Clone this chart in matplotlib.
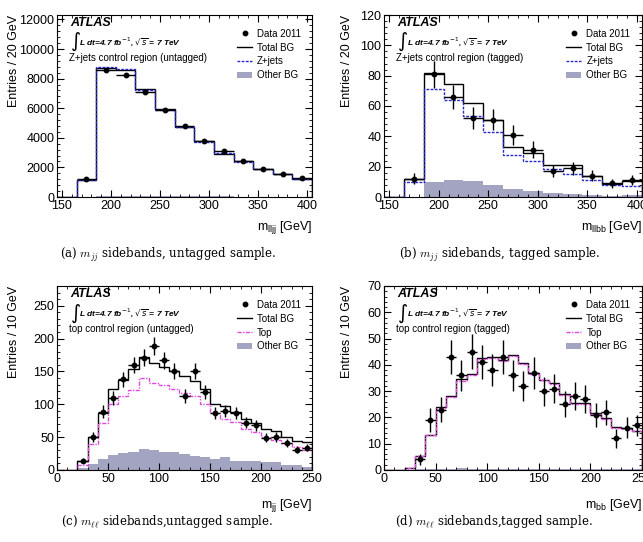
import matplotlib
matplotlib.use("Agg")
import matplotlib.pyplot as plt
import numpy as np
from matplotlib.ticker import AutoMinorLocator, MultipleLocator
from matplotlib.lines import Line2D
from matplotlib.patches import Patch

plt.rcParams['font.family'] = ['Liberation Sans', 'DejaVu Sans']
plt.rcParams['mathtext.fontset'] = 'dejavusans'

# bins (GeV)
edges_z = np.arange(145, 406, 20)   # Z+jets control region, 20 GeV bins
edges_t = np.arange(0, 251, 10)     # top control region, 10 GeV bins

# (a) m_lljj, untagged
total_a = [0, 1180, 8700, 8560, 7270, 5950, 4760, 3760, 2920, 2400, 1890, 1570, 1250]
zjets_a = [0, 1170, 8780, 8640, 7200, 5900, 4720, 3730, 3000, 2380, 1880, 1560, 1240]
other_a = [0, 20, 70, 70, 60, 55, 50, 40, 35, 30, 25, 20, 20]
data_a = [1200, 8550, 8250, 7120, 5860, 4770, 3800, 3120, 2440, 1900, 1570, 1290]
err_a = [35, 92, 91, 84, 77, 69, 62, 56, 49, 44, 40, 36]

# (b) m_llbb, tagged
total_b = [0, 12, 81.5, 74.5, 62, 51, 33, 29, 21, 21, 13.7, 8.8, 10.8]
zjets_b = [0, 9.7, 71, 64, 53.6, 42.6, 28, 23.5, 18.7, 15, 11.4, 8, 7]
other_b = [0, 0, 9.7, 11, 10.3, 8, 5.3, 4.2, 2.6, 2.2, 1.5, 0.9, 1]
data_b = [12, 81, 66, 52, 51, 41, 31, 17, 19, 14, 9, 11]
err_b = [3.5, 9, 8, 7.2, 7.1, 6.4, 5.6, 4.1, 4.4, 3.7, 3, 3.3]

# (c) m_jj, untagged
total_c = [0, 0, 13, 50, 87, 123, 137, 153, 172, 163, 156, 151, 143, 135, 124,
           100, 98, 89, 78, 72, 63, 59, 50, 44, 43]
top_c = [0, 0, 8, 39, 72, 101, 113, 122, 140, 132, 130, 124, 117, 112, 101,
         86, 78, 73, 63, 58, 50, 46, 41, 35, 30]
other_c = [0, 0, 3, 9, 17, 23, 26, 28, 32, 30, 27, 27, 25, 22, 20,
           17, 19.5, 14, 13, 14, 12, 12, 7, 7, 5]
data_c = [14, 50, 89, 110, 138, 160, 171, 188, 167, 151, 112, 151, 119,
          87, 90, 87, 72, 68, 49, 50, 41, 31, 34]
err_c = [3.7, 7.1, 9.4, 10.5, 11.7, 12.6, 13.1, 13.7, 12.9, 12.3, 10.6, 12.3, 10.9,
         9.3, 9.5, 9.3, 8.5, 8.2, 7, 7.1, 6.4, 5.6, 5.8]

# (d) m_bb, tagged
total_d = [0, 0, 0.8, 5.5, 13.5, 24, 28, 34.6, 36.5, 42.5, 43, 41.8, 43.7, 40.8, 37,
           34.4, 33, 29, 25.4, 25.4, 21.5, 19.6, 16.4, 15.8, 15]
top_d = [0, 0, 0.6, 5.2, 13.2, 23.4, 27.6, 34, 36.2, 42.2, 42.7, 41.5, 43.4, 40.5, 36.7,
         34.1, 32.7, 28.7, 25.1, 25.1, 21.2, 19.3, 16.1, 15.5, 14.7]
other_d = [0, 0, 0.1, 0.2, 0.3, 0.5, 0.4, 0.6, 0.4, 0.3, 0.3, 0.3, 0.3, 0.3, 0.3,
           0.3, 0.3, 0.3, 0.3, 0.3, 0.3, 0.3, 0.3, 0.3, 0.3]
data_d = [4, 19, 23, 43, 36, 45, 41, 38, 43, 36, 32, 37, 30, 31, 25, 28, 27, 21, 22, 12, 16, 17]
err_d = [2, 4.4, 4.8, 6.6, 6, 6.7, 6.4, 6.2, 6.6, 6, 5.7, 6.1, 5.5, 5.6, 5, 5.3, 5.2,
         4.6, 4.7, 3.5, 4, 4.1]

gris = '#a3a3c2'
azul = '#2828c8'
rosa = '#e048e0'

W, H = 643, 542
fig = plt.figure(figsize=(W / 100, H / 100), dpi=100)


def caja(l, t, r, b):
    return [l / W, 1 - b / H, (r - l) / W, (b - t) / H]


def panel(rect, edges, total, sig, other, data, err, first, sig_lab, sig_col, sig_ls,
          ylim, yticks, xlab, ylab, region, xtick_step):
    ax = fig.add_axes(rect)
    centers = (edges[:-1] + edges[1:]) / 2
    half = (edges[1] - edges[0]) / 2
    ax.stairs(other, edges, fill=True, color=gris, lw=0)
    ax.stairs(total, edges, color='k', lw=1.0)
    ax.stairs(sig, edges, color=sig_col, lw=1.0, ls=sig_ls)
    xs = centers[first:first + len(data)]
    ax.errorbar(xs, data, xerr=half, yerr=err, fmt='o', ms=3.2, color='k',
                elinewidth=1.0, capsize=0)
    ax.set_xlim(edges[0], edges[-1])
    ax.set_ylim(*ylim)
    ax.yaxis.set_major_locator(MultipleLocator(yticks))
    ax.xaxis.set_major_locator(MultipleLocator(xtick_step))
    ax.xaxis.set_minor_locator(AutoMinorLocator(5))
    ax.yaxis.set_minor_locator(AutoMinorLocator(5))
    ax.tick_params(which='both', direction='in', top=True, right=True, labelsize=9, pad=2)
    ax.tick_params(which='major', length=5)
    ax.tick_params(which='minor', length=2.5)
    ax.set_xlabel(xlab, fontsize=9, loc='right')
    ax.set_ylabel(ylab, fontsize=9, loc='top')
    ax.text(0.05, 0.955, 'ATLAS', transform=ax.transAxes, fontsize=9, fontweight='bold',
            style='italic', va='center')
    ax.text(0.05, 0.85, r'$\int$', transform=ax.transAxes, fontsize=10, va='center')
    ax.text(0.088, 0.855, r'L dt=4.7 fb$^{-1}$, $\sqrt{s}$ = 7 TeV', transform=ax.transAxes,
            fontsize=6, fontweight='bold', style='italic', va='center')
    ax.text(0.048, 0.765, region, transform=ax.transAxes, fontsize=7, va='center')
    handles = [Line2D([], [], marker='o', ls='none', color='k', ms=3.2),
               Line2D([], [], color='k', lw=1.0),
               Line2D([], [], color=sig_col, lw=1.0, ls=sig_ls),
               Patch(facecolor=gris, edgecolor='none')]
    ax.legend(handles, ['Data 2011', 'Total BG', sig_lab, 'Other BG'], loc='upper left',
              bbox_to_anchor=(0.705, 0.925), frameon=False, fontsize=7, handlelength=1.6,
              handletextpad=0.5, labelspacing=0.4, borderaxespad=0, borderpad=0)
    return ax


ax_a = panel(caja(57, 15, 312, 197), edges_z, total_a, zjets_a, other_a, data_a, err_a, 1,
             'Z+jets', azul, (0, (2, 1)), (0, 12300), 2000,
             r'm$_{\mathregular{lljj}}$ [GeV]', 'Entries / 20 GeV',
             'Z+jets control region (untagged)', 50)
ax_b = panel(caja(384, 15, 642, 197), edges_z, total_b, zjets_b, other_b, data_b, err_b, 1,
             'Z+jets', azul, (0, (2, 1)), (0, 120), 20,
             r'm$_{\mathregular{llbb}}$ [GeV]', 'Entries / 20 GeV',
             'Z+jets control region (tagged)', 50)
ax_c = panel(caja(57, 286, 312, 470), edges_t, total_c, top_c, other_c, data_c, err_c, 2,
             'Top', rosa, (0, (3, 1, 1, 1)), (0, 280), 50,
             r'm$_{\mathregular{jj}}$ [GeV]', 'Entries / 10 GeV',
             'top control region (untagged)', 50)
ax_d = panel(caja(384, 286, 642, 470), edges_t, total_d, top_d, other_d, data_d, err_d, 3,
             'Top', rosa, (0, (3, 1, 1, 1)), (0, 70), 10,
             r'm$_{\mathregular{bb}}$ [GeV]', 'Entries / 10 GeV',
             'top control region (tagged)', 50)

for ax in (ax_a, ax_c):
    ax.yaxis.set_label_coords(-0.145, 1.0)
for ax in (ax_b, ax_d):
    ax.yaxis.set_label_coords(-0.12, 1.0)
for ax in (ax_a, ax_b):
    ax.xaxis.set_label_coords(1.0, -0.12)
for ax in (ax_c, ax_d):
    ax.xaxis.set_label_coords(1.0, -0.145)

captions = [(168, 255, r'(a) $m_{jj}$ sidebands, untagged sample.'),
            (500, 255, r'(b) $m_{jj}$ sidebands, tagged sample.'),
            (167, 521, r'(c) $m_{\ell\ell}$ sidebands,untagged sample.'),
            (494, 521, r'(d) $m_{\ell\ell}$ sidebands,tagged sample.')]
for cx, cy, txt in captions:
    fig.text(cx / W, 1 - cy / H, txt, ha='center', va='center', fontsize=8.5,
             family=['DejaVu Serif'], math_fontfamily='cm')

fig.savefig('out.png', dpi=100)
